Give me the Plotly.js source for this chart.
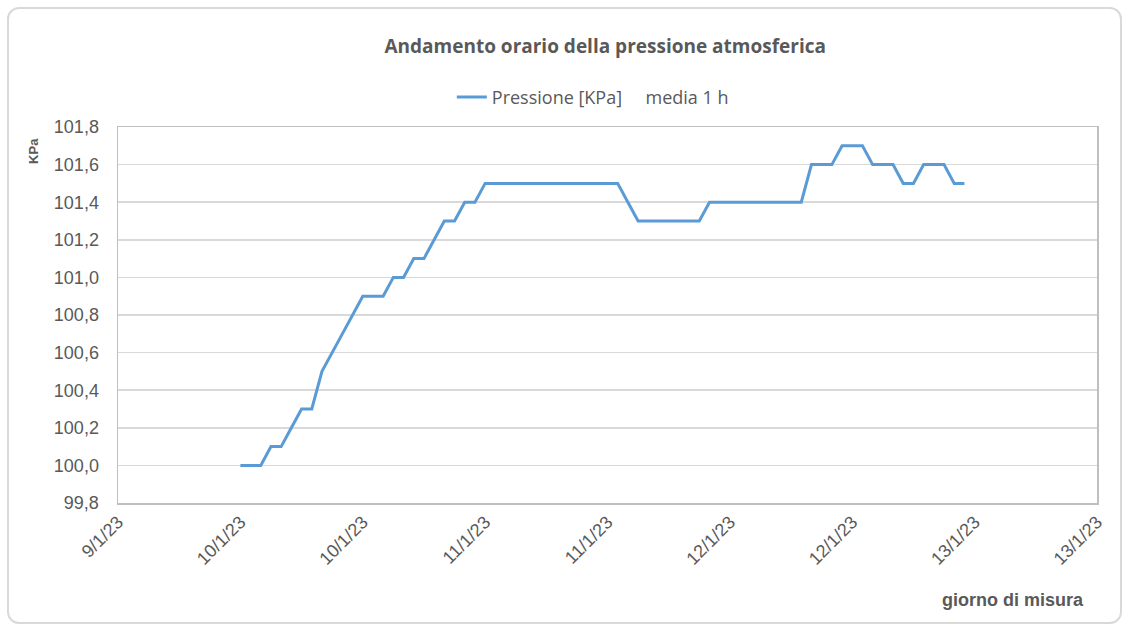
<!DOCTYPE html>
<html>
<head>
<meta charset="utf-8">
<script src="https://cdn.plot.ly/plotly-3.0.1.min.js"></script>
<style>
  html, body { margin: 0; padding: 0; background: #ffffff; }
  #frame { position: absolute; left: 7px; top: 7px; width: 1111px; height: 613px;
           border: 2px solid #d9d9d9; border-radius: 12px; pointer-events: none; }
  #chart { position: absolute; left: 0; top: 0; width: 1127px; height: 630px; }
</style>
</head>
<body>
<div id="chart"></div>
<div id="frame"></div>
<script>
// Hourly timestamps (10/1/2023 00:00 → 12/1/2023 23:00)
const times = [
  "2023-01-10 00:00","2023-01-10 01:00","2023-01-10 02:00","2023-01-10 03:00","2023-01-10 04:00","2023-01-10 05:00",
  "2023-01-10 06:00","2023-01-10 07:00","2023-01-10 08:00","2023-01-10 09:00","2023-01-10 10:00","2023-01-10 11:00",
  "2023-01-10 12:00","2023-01-10 13:00","2023-01-10 14:00","2023-01-10 15:00","2023-01-10 16:00","2023-01-10 17:00",
  "2023-01-10 18:00","2023-01-10 19:00","2023-01-10 20:00","2023-01-10 21:00","2023-01-10 22:00","2023-01-10 23:00",
  "2023-01-11 00:00","2023-01-11 01:00","2023-01-11 02:00","2023-01-11 03:00","2023-01-11 04:00","2023-01-11 05:00",
  "2023-01-11 06:00","2023-01-11 07:00","2023-01-11 08:00","2023-01-11 09:00","2023-01-11 10:00","2023-01-11 11:00",
  "2023-01-11 12:00","2023-01-11 13:00","2023-01-11 14:00","2023-01-11 15:00","2023-01-11 16:00","2023-01-11 17:00",
  "2023-01-11 18:00","2023-01-11 19:00","2023-01-11 20:00","2023-01-11 21:00","2023-01-11 22:00","2023-01-11 23:00",
  "2023-01-12 00:00","2023-01-12 01:00","2023-01-12 02:00","2023-01-12 03:00","2023-01-12 04:00","2023-01-12 05:00",
  "2023-01-12 06:00","2023-01-12 07:00","2023-01-12 08:00","2023-01-12 09:00","2023-01-12 10:00","2023-01-12 11:00",
  "2023-01-12 12:00","2023-01-12 13:00","2023-01-12 14:00","2023-01-12 15:00","2023-01-12 16:00","2023-01-12 17:00",
  "2023-01-12 18:00","2023-01-12 19:00","2023-01-12 20:00","2023-01-12 21:00","2023-01-12 22:00","2023-01-12 23:00"
];

// Pressure [KPa], hourly mean
const pressure = [
  100.0,100.0,100.0,100.1,100.1,100.2,100.3,100.3,100.5,100.6,100.7,100.8,
  100.9,100.9,100.9,101.0,101.0,101.1,101.1,101.2,101.3,101.3,101.4,101.4,
  101.5,101.5,101.5,101.5,101.5,101.5,101.5,101.5,101.5,101.5,101.5,101.5,
  101.5,101.5,101.4,101.3,101.3,101.3,101.3,101.3,101.3,101.3,101.4,101.4,
  101.4,101.4,101.4,101.4,101.4,101.4,101.4,101.4,101.6,101.6,101.6,101.7,
  101.7,101.7,101.6,101.6,101.6,101.5,101.5,101.6,101.6,101.6,101.5,101.5
];

// X axis ticks (every 12 h)
const xTickVals = [
  "2023-01-09 12:00","2023-01-10 00:00","2023-01-10 12:00","2023-01-11 00:00","2023-01-11 12:00",
  "2023-01-12 00:00","2023-01-12 12:00","2023-01-13 00:00","2023-01-13 12:00"
];
const xTickText = ["9/1/23","10/1/23","10/1/23","11/1/23","11/1/23","12/1/23","12/1/23","13/1/23","13/1/23"];

const yTickVals = [99.8,100.0,100.2,100.4,100.6,100.8,101.0,101.2,101.4,101.6,101.8];

const seriesName = "Pressione [KPa]\u00a0\u00a0\u00a0\u00a0\u00a0media 1 h";
const chartTitle = "Andamento orario della pressione atmosferica";
const xTitle = "giorno di misura";
const yTitle = "KPa";

const textColor = "#595959";
const font = "Liberation Sans, Arial, sans-serif";
const font2 = "Open Sans, Liberation Sans, sans-serif";

const trace = {
  x: times,
  y: pressure,
  type: "scatter",
  mode: "lines",
  name: seriesName,
  line: { color: "#5b9bd5", width: 3 }
};

const layout = {
  width: 1127,
  height: 630,
  margin: { l: 118, r: 30, t: 127, b: 127 },
  paper_bgcolor: "#ffffff",
  plot_bgcolor: "#ffffff",
  separators: ",.",
  font: { family: font, color: textColor, size: 18 },
  title: {
    text: "<b>" + chartTitle + "</b>",
    x: 0.537, xanchor: "center",
    y: 0.927, yanchor: "middle",
    font: { family: font2, size: 19, color: textColor }
  },
  showlegend: true,
  legend: {
    orientation: "h",
    x: 0.485, xanchor: "center",
    y: 1.03, yanchor: "bottom",
    font: { family: font2, size: 18, color: textColor },
    bgcolor: "rgba(0,0,0,0)"
  },
  xaxis: {
    type: "date",
    range: ["2023-01-09 12:00", "2023-01-13 12:00"],
    tickmode: "array",
    tickvals: xTickVals,
    ticktext: xTickText,
    tickangle: -45,
    showgrid: false,
    zeroline: false,
    showline: true,
    linecolor: "#bfbfbf",
    linewidth: 1.5,
    mirror: true,
    ticks: "",
    tickfont: { family: font, size: 18, color: textColor }
  },
  yaxis: {
    range: [99.8, 101.8],
    tickmode: "array",
    tickvals: yTickVals,
    tickformat: ".1f",
    showgrid: true,
    gridcolor: "#d9d9d9",
    gridwidth: 1.5,
    zeroline: false,
    showline: true,
    linecolor: "#bfbfbf",
    linewidth: 1.5,
    mirror: true,
    ticks: "",
    ticklabelstandoff: 14,
    tickfont: { family: font, size: 18, color: textColor }
  },
  annotations: [
    {
      text: "<b>" + xTitle + "</b>",
      xref: "paper", yref: "paper",
      x: 0.989, xanchor: "right",
      y: -0.258, yanchor: "middle",
      showarrow: false,
      font: { family: font, size: 18, color: textColor }
    },
    {
      text: "<b>" + yTitle + "</b>",
      xref: "paper", yref: "paper",
      x: -0.087, xanchor: "center",
      y: 0.936, yanchor: "middle",
      textangle: -90,
      showarrow: false,
      font: { family: font, size: 13, color: textColor }
    }
  ]
};

Plotly.newPlot("chart", [trace], layout, { displayModeBar: false, staticPlot: true });
</script>
</body>
</html>
